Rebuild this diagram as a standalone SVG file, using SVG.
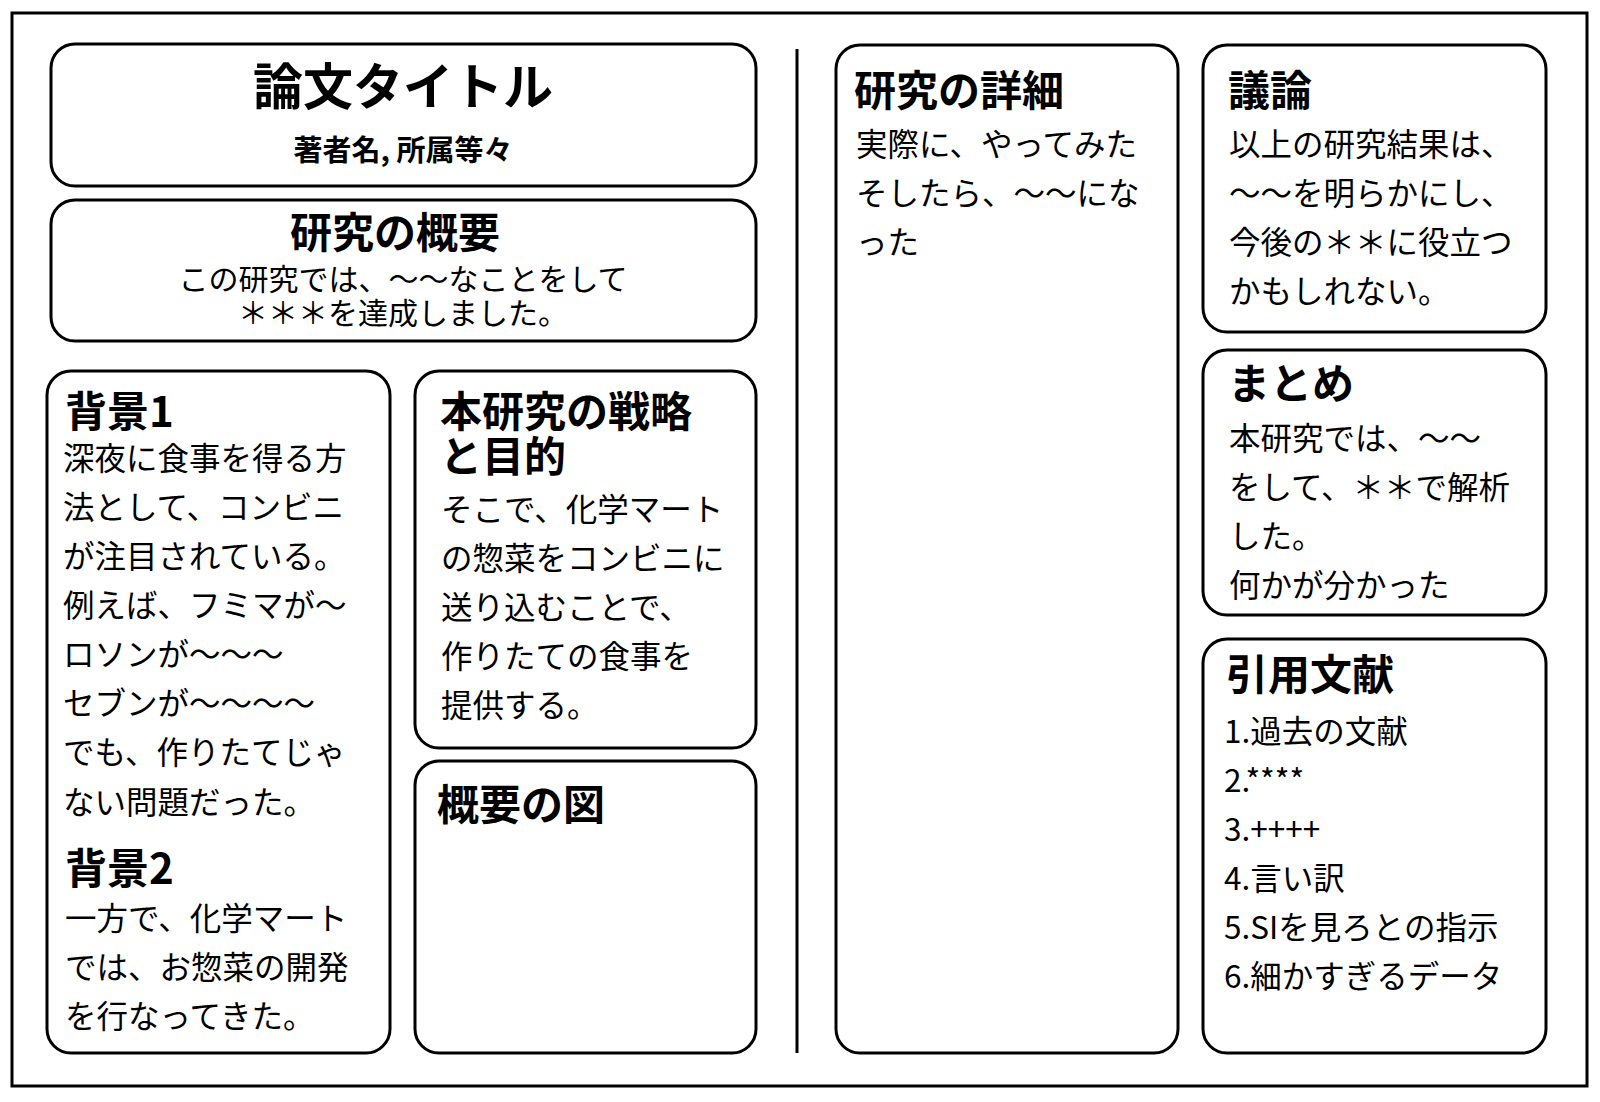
<svg xmlns="http://www.w3.org/2000/svg" width="1600" height="1102" viewBox="0 0 1600 1102">
<style>
.b{fill:#fff;stroke:#000;stroke-width:3}
text{font-family:"Noto Sans CJK JP","Noto Sans",sans-serif;fill:#000}
.h{font-weight:bold;font-size:42px}
.t{font-size:31.5px}
.c{text-anchor:middle}
</style>
<rect x="0" y="0" width="1600" height="1102" fill="#fff"/>
<rect x="12" y="13" width="1575" height="1073" fill="#fff" stroke="#000" stroke-width="3"/>
<g id="connectors"><line x1="797" y1="49" x2="797" y2="1053" stroke="#000" stroke-width="3"/></g>
<g id="title"><rect class="b" x="51" y="44" width="705" height="142" rx="24"/>
<text class="c" x="403" y="105" font-weight="bold" font-size="50">論文タイトル</text>
<text class="c" x="403" y="161" font-weight="bold" font-size="29">著者名, 所属等々</text></g>
<g id="abstract"><rect class="b" x="51" y="200" width="705" height="141" rx="24"/>
<text class="c h" x="395" y="248">研究の概要</text>
<text class="c" font-size="30" x="403" y="290">この研究では、〜〜なことをして</text>
<text class="c" font-size="30" x="403" y="324">＊＊＊を達成しました。</text></g>
<g id="background"><rect class="b" x="47" y="371" width="343" height="682" rx="24"/>
<text class="h" x="65" y="427">背景1</text>
<text class="t"><tspan x="63" y="470">深夜に食事を得る方</tspan><tspan x="63" y="519">法として、コンビニ</tspan><tspan x="63" y="568">が注目されている。</tspan><tspan x="63" y="617">例えば、フミマが〜</tspan><tspan x="63" y="666">ロソンが〜〜〜</tspan><tspan x="63" y="715">セブンが〜〜〜〜</tspan><tspan x="63" y="764">でも、作りたてじゃ</tspan><tspan x="63" y="814">ない問題だった。</tspan></text>
<text class="h" x="65" y="884">背景2</text>
<text class="t"><tspan x="65" y="930">一方で、化学マート</tspan><tspan x="65" y="979">では、お惣菜の開発</tspan><tspan x="65" y="1028">を行なってきた。</tspan></text></g>
<g id="strategy"><rect class="b" x="415" y="371" width="341" height="377" rx="24"/>
<text class="h"><tspan x="440" y="427">本研究の戦略</tspan><tspan x="440" y="472">と目的</tspan></text>
<text class="t"><tspan x="441" y="521">そこで、化学マート</tspan><tspan x="441" y="570">の惣菜をコンビニに</tspan><tspan x="441" y="619">送り込むことで、</tspan><tspan x="441" y="668">作りたての食事を</tspan><tspan x="441" y="717">提供する。</tspan></text></g>
<g id="figure"><rect class="b" x="415" y="761" width="341" height="292" rx="24"/>
<text class="h" x="437" y="820">概要の図</text></g>
<g id="detail"><rect class="b" x="836" y="45" width="342" height="1008" rx="24"/>
<text class="h" x="854" y="106">研究の詳細</text>
<text class="t"><tspan x="856" y="156">実際に、やってみた</tspan><tspan x="856" y="205">そしたら、〜〜にな</tspan><tspan x="856" y="254">った</tspan></text></g>
<g id="discussion"><rect class="b" x="1203" y="45" width="343" height="287" rx="24"/>
<text class="h" x="1228" y="106">議論</text>
<text class="t"><tspan x="1229" y="156">以上の研究結果は、</tspan><tspan x="1229" y="205">〜〜を明らかにし、</tspan><tspan x="1229" y="254">今後の＊＊に役立つ</tspan><tspan x="1229" y="303">かもしれない。</tspan></text></g>
<g id="summary"><rect class="b" x="1203" y="350" width="343" height="265" rx="24"/>
<text class="h" x="1228" y="399">まとめ</text>
<text class="t"><tspan x="1229" y="450">本研究では、〜〜</tspan><tspan x="1229" y="499">をして、＊＊で解析</tspan><tspan x="1229" y="548">した。</tspan><tspan x="1229" y="597">何かが分かった</tspan></text></g>
<g id="references"><rect class="b" x="1203" y="639" width="343" height="414" rx="24"/>
<text class="h" x="1226" y="690">引用文献</text>
<text class="t"><tspan x="1224" y="743">1.過去の文献</tspan><tspan x="1224" y="792">2.****</tspan><tspan x="1224" y="841">3.++++</tspan><tspan x="1224" y="890">4.言い訳</tspan><tspan x="1224" y="939">5.SIを見ろとの指示</tspan><tspan x="1224" y="988">6.細かすぎるデータ</tspan></text></g>
</svg>
